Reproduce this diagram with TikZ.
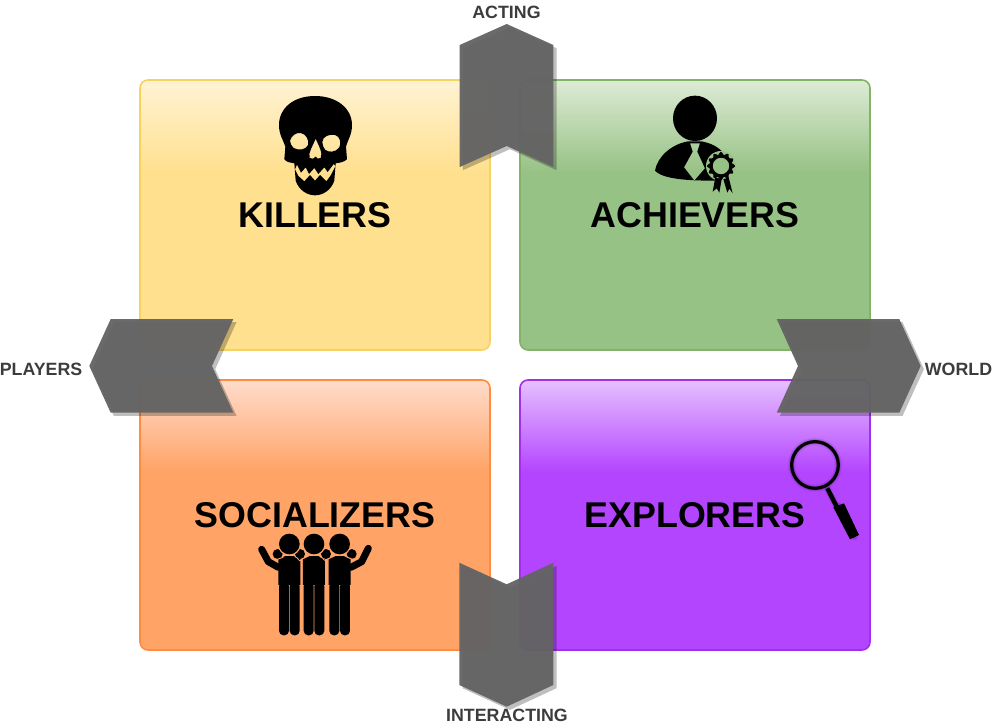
\documentclass[tikz,border=0pt]{standalone}
\usepackage{fontspec}
\setmainfont{Liberation Sans}
\usetikzlibrary{shadows}

\definecolor{killerbase}{HTML}{FFE08E}
\definecolor{killerlight}{HTML}{FFF3D4}
\definecolor{killerline}{HTML}{F8D25E}
\definecolor{achieverbase}{HTML}{97C285}
\definecolor{achieverlight}{HTML}{DDEBD6}
\definecolor{achieverline}{HTML}{82B366}
\definecolor{socialbase}{HTML}{FFA366}
\definecolor{sociallight}{HTML}{FFDCCB}
\definecolor{socialline}{HTML}{FF8C3F}
\definecolor{explorerbase}{HTML}{B445FF}
\definecolor{explorerlight}{HTML}{E6C0FF}
\definecolor{explorerline}{HTML}{A030EA}
\definecolor{chevgray}{HTML}{646464}
\definecolor{labelgray}{HTML}{3C3C3C}

\pgfdeclareverticalshading{killershade}{100bp}{color(0bp)=(killerbase); color(58bp)=(killerbase); color(75bp)=(killerlight); color(100bp)=(killerlight)}
\pgfdeclareverticalshading{achievershade}{100bp}{color(0bp)=(achieverbase); color(58bp)=(achieverbase); color(75bp)=(achieverlight); color(100bp)=(achieverlight)}
\pgfdeclareverticalshading{socialshade}{100bp}{color(0bp)=(socialbase); color(58bp)=(socialbase); color(75bp)=(sociallight); color(100bp)=(sociallight)}
\pgfdeclareverticalshading{explorershade}{100bp}{color(0bp)=(explorerbase); color(58bp)=(explorerbase); color(75bp)=(explorerlight); color(100bp)=(explorerlight)}

\tikzset{
  playerbox/.style={draw=#1, line width=1.6pt, rounded corners=8pt, shade,
    minimum width=350pt, minimum height=270pt, inner sep=0pt,
    font=\fontsize{35.8}{38}\selectfont\bfseries},
  chevron/.style={fill=chevgray, fill opacity=.96,
    drop shadow={shadow xshift=3.2pt, shadow yshift=-3.2pt, opacity=.25, fill=black}},
  axislabel/.style={text=labelgray, inner sep=0pt, font=\fontsize{17.8}{19}\selectfont\bfseries},
  icon/.style={shift={#1}, x=0.3333pt, y=-0.3333pt}
}

\begin{document}
\begin{tikzpicture}[x=1pt, y=-1pt]
  \useasboundingbox (0,0) rectangle (1000,727);

  \node[playerbox=killerline, shading=killershade]     (killers)   at (315,215) {KILLERS};
  \node[playerbox=achieverline, shading=achievershade] (achievers) at (695,215) {ACHIEVERS};
  \node[playerbox=socialline, shading=socialshade]     (socializers) at (315,515) {SOCIALIZERS};
  \node[playerbox=explorerline, shading=explorershade] (explorers) at (695,515) {EXPLORERS};

  % skull
  \begin{scope}[icon={(265,90)}]
    \fill[even odd rule] (150,18) .. controls (215,18) and (261,55) .. (261,105)
      .. controls (261,135) and (248,150) .. (243,170) -- (246,208)
      .. controls (235,218) and (222,218) .. (212,220)
      -- (208,272) .. controls (198,302) and (172,316) .. (150,316)
      .. controls (128,316) and (102,302) .. (92,272) -- (88,220)
      .. controls (78,218) and (66,218) .. (58,208) -- (61,170)
      .. controls (55,150) and (42,135) .. (42,105)
      .. controls (42,55) and (85,18) .. (150,18) -- cycle
      % eyes and nose
      (75,152) .. controls (79,136) and (95,127) .. (107,129)
        .. controls (122,132) and (133,148) .. (129,165)
        .. controls (123,180) and (100,182) .. (86,174) .. controls (80,169) and (75,160) .. (75,152) -- cycle
      (172,156) .. controls (172,138) and (195,132) .. (210,135)
        .. controls (226,139) and (229,160) .. (223,172)
        .. controls (212,188) and (190,188) .. (180,179) .. controls (175,172) and (172,164) .. (172,156) -- cycle
      (152,146) .. controls (160,165) and (175,190) .. (167,204)
        .. controls (161,209) and (155,205) .. (152,200)
        .. controls (148,206) and (140,209) .. (134,204)
        .. controls (128,190) and (145,165) .. (152,146) -- cycle
      % gap between the teeth
      (90,238) -- (96,224) -- (108,248) -- (122,232) -- (132,252) -- (148,234) -- (160,252) -- (178,232) -- (188,246) -- (206,222) -- (212,228)
      -- (196,258) -- (184,274) -- (165,255) -- (150,272) -- (135,255) -- (118,274) -- (100,258) -- cycle;
  \end{scope}

  % achiever with rosette
  \begin{scope}[icon={(640,80)}]
    \fill (165,115) ellipse[x radius=66, y radius=68];
    \fill[even odd rule] (45,272) .. controls (52,230) and (95,192) .. (145,184) -- (185,184)
      .. controls (225,192) and (250,210) .. (262,240) -- (225,302)
      .. controls (160,302) and (70,300) .. (45,272) -- cycle
      (150,190) -- (180,190) -- (172,215) -- (195,265) -- (163,302) -- (132,262) -- (158,215) -- cycle;
    \fill[achieverbase] (243,258) circle[radius=45];
    \begin{scope}[shift={(243,258)}]
      \fill[even odd rule] plot[domain=0:360, samples=97] (\x:{38+4*cos(12*\x)}) -- cycle (0,0) circle[radius=25];
    \end{scope}
    \fill (226,292) -- (218,335) -- (230,325) -- (238,338) -- (245,298) -- cycle;
    \fill (250,298) -- (262,338) -- (268,326) -- (278,340) -- (266,292) -- cycle;
  \end{scope}

  % three friends
  \begin{scope}[icon={(240,520)}]
    \draw[line width=7pt, line cap=round, line join=round] (65,88) -- (85,125) -- (115,142);
    \draw[line width=7pt, line cap=round, line join=round] (385,85) -- (365,125) -- (333,142);
    \foreach \hx in {113,180,258,335}
      \fill (\hx,102) circle[radius=15];
    \foreach \px in {148,222,299}
    {
      \fill[socialbase] (\px,72) circle[radius=35];
      \fill (\px,72) circle[radius=31];
      \fill (\px-33,118) -- (\px-12,108) -- (\px+12,108) -- (\px+33,118) -- (\px+33,195) -- (\px-33,195) -- cycle;
      \fill[rounded corners=4.5pt] (\px-31,185) rectangle (\px-1,346);
      \fill[rounded corners=4.5pt] (\px+1,185) rectangle (\px+31,346);
    }
    \foreach \lx/\ly/\rx/\ry in {98/118/130/112,165/110/185/122,240/110/262/122,318/110/350/118}
      \draw[socialbase, line width=.8pt] (\lx,\ly) .. controls (\lx+12,\ly+3) and (\rx-12,\ry+3) .. (\rx,\ry);
  \end{scope}

  % magnifier
  \begin{scope}[icon={(770,310)}]
    \foreach \w/\o in {8/.06,6.5/.08,5/.10,4/.12}
    {
      \draw[explorerbase!40!black, line width=\w pt, opacity=\o] (135,465) circle[radius=70];
      \draw[explorerbase!40!black, line width=\w pt, opacity=\o, line cap=round] (172,535) -- (200,590);
      \draw[explorerbase!40!black, line width=\w pt, opacity=\o, line cap=round] (206,586) -- (253,681);
    }
    \draw[line width=3.2pt] (135,465) circle[radius=70];
    \draw[line width=4.5pt] (172,535) -- (200,590);
    \fill (190,592) -- (222,580) -- (267,675) -- (240,688) -- cycle;
  \end{scope}

  % arrows over the boxes
  \fill[chevron] (506.7,24) -- (553.3,45) -- (553.3,167) -- (506.7,146) -- (459.7,167) -- (459.7,45) -- cycle;
  \fill[chevron] (776.7,319) -- (899.3,319) -- (920.7,366) -- (899.3,412.7) -- (776.7,412.7) -- (798,366) -- cycle;
  \fill[chevron] (110.7,319) -- (233.3,319) -- (212,366) -- (233.3,412.7) -- (110.7,412.7) -- (89.3,366) -- cycle;
  \fill[chevron] (459.3,562.7) -- (506.7,584.3) -- (553.3,562.7) -- (553.3,685) -- (506.7,706.7) -- (459.3,685) -- cycle;

  \node[axislabel] (acting)      at (506.5,12.5) {ACTING};
  \node[axislabel] (world)       at (958.5,369.5) {WORLD};
  \node[axislabel] (players)     at (41,369.5) {PLAYERS};
  \node[axislabel] (interacting) at (507,715.5) {INTERACTING};
\end{tikzpicture}
\end{document}
